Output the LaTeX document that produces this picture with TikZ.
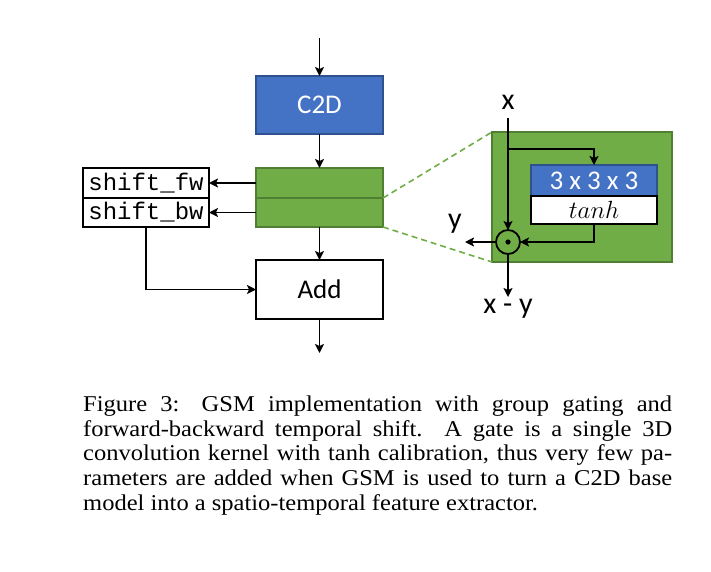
\documentclass[tikz,border=0pt]{standalone}
\usepackage{fontspec}
\setmainfont{Liberation Serif}
\setmonofont{Liberation Mono}
\newfontfamily\calfont{Carlito}
\newfontfamily\capfont[FakeStretch=1.085]{Liberation Serif}
\usetikzlibrary{arrows.meta,calc}
\definecolor{cblue}{HTML}{4472C4}
\definecolor{cblueb}{HTML}{2F528F}
\definecolor{cgreen}{HTML}{70AD47}
\definecolor{cgreenb}{HTML}{507E32}
\begin{document}
\begin{tikzpicture}[x=1pt,y=-1pt,
  box/.style={draw=black,line width=2pt,fill=white,inner sep=0pt,outer sep=0pt},
  bluebox/.style={draw=cblueb,line width=1.2pt,fill=cblue,inner sep=0pt,outer sep=0pt,text=white},
  greenbox/.style={draw=cgreenb,line width=1.2pt,fill=cgreen,inner sep=0pt,outer sep=0pt},
  sans/.style={font=\calfont\fontsize{27}{32}\selectfont},
  lab/.style={font=\calfont\fontsize{30}{36}\selectfont,inner sep=0pt},
  mono/.style={font=\ttfamily\fontsize{24}{28}\selectfont},
  arr/.style={line width=1.8pt,-{Stealth[length=9pt,width=9pt,inset=2pt]}},
  zoomline/.style={draw=cgreen,line width=1.6pt,dash pattern=on 6pt off 4pt}
]
\useasboundingbox (0,0) rectangle (711,571);
% main column
\node[bluebox,sans,minimum width=127pt,minimum height=58pt] (c2d) at (319.5,105) {C2D};
\node[greenbox,minimum width=127pt,minimum height=30pt] (grnA) at (319.5,183) {};
\node[greenbox,minimum width=127pt,minimum height=29pt] (grnB) at (319.5,212.5) {};
\node[box,sans,minimum width=127pt,minimum height=59pt] (add) at (319.5,289.5) {Add};
\node[box,mono,minimum width=126pt,minimum height=30pt] (sfw) at (146,183) {shift\_fw};
\node[box,mono,minimum width=126pt,minimum height=29pt] (sbw) at (146,212.5) {shift\_bw};
\coordinate (topin) at (319.5,38);
\coordinate (botout) at (319.5,353);
\draw[arr] (topin) -- (c2d.north);
\draw[arr] (c2d.south) -- (grnA.north);
\draw[arr] (grnB.south) -- (add.north);
\draw[arr] (add.south) -- (botout);
\draw[arr] (grnA.west) -- (sfw.east);
\draw[arr] (grnB.west) -- (sbw.east);
\draw[arr] (sbw.south) |- (add.west);
% gate
\node[greenbox,minimum width=180pt,minimum height=130pt] (gate) at (582,197) {};
\draw[zoomline] (grnA.south east) -- (gate.north west);
\draw[zoomline] (grnB.south east) -- (gate.south west);
\node[bluebox,sans,minimum width=126pt,minimum height=31pt] (conv) at (594,180.5) {3 x 3 x 3};
\node[box,minimum width=126pt,minimum height=28pt,font=\fontsize{24}{28}\selectfont] (tanh) at (594,210) {$tanh$};
\node[circle,draw=black,line width=1.8pt,minimum size=24pt,inner sep=0pt,outer sep=0pt] (odot) at (508,242) {};
\fill (odot.center) circle (2.6pt);
\node[lab] (xlab) at (508,102) {x};
\node[lab] (ylab) at (455,224) {y};
\node[lab] (xylab) at (508,309) {x - y};
\coordinate (xin) at (508,118);
\coordinate (br) at (508,149);
\coordinate (yend) at (465,242);
\coordinate (xyend) at (508,297);
\draw[arr] (xin) -- (odot.north);
\draw[arr] (br) -| (conv.north);
\draw[arr] (tanh.south) |- (odot.east);
\draw[arr] (odot.west) -- (yend);
\draw[arr] (odot.south) -- (xyend);
% caption
\node[anchor=north west,inner sep=0pt,text width=589pt,align=justify,
  font=\capfont\fontsize{22.6}{24.9}\selectfont] (cap) at (83,395.3)
 {Figure 3:  GSM implementation with group gating and\linebreak
 forward-backward temporal shift.  A gate is a single 3D\linebreak
 convolution kernel with tanh calibration, thus very few pa-\linebreak
 rameters are added when GSM is used to turn a C2D base\linebreak
 model into a spatio-temporal feature extractor.};
\end{tikzpicture}
\end{document}
